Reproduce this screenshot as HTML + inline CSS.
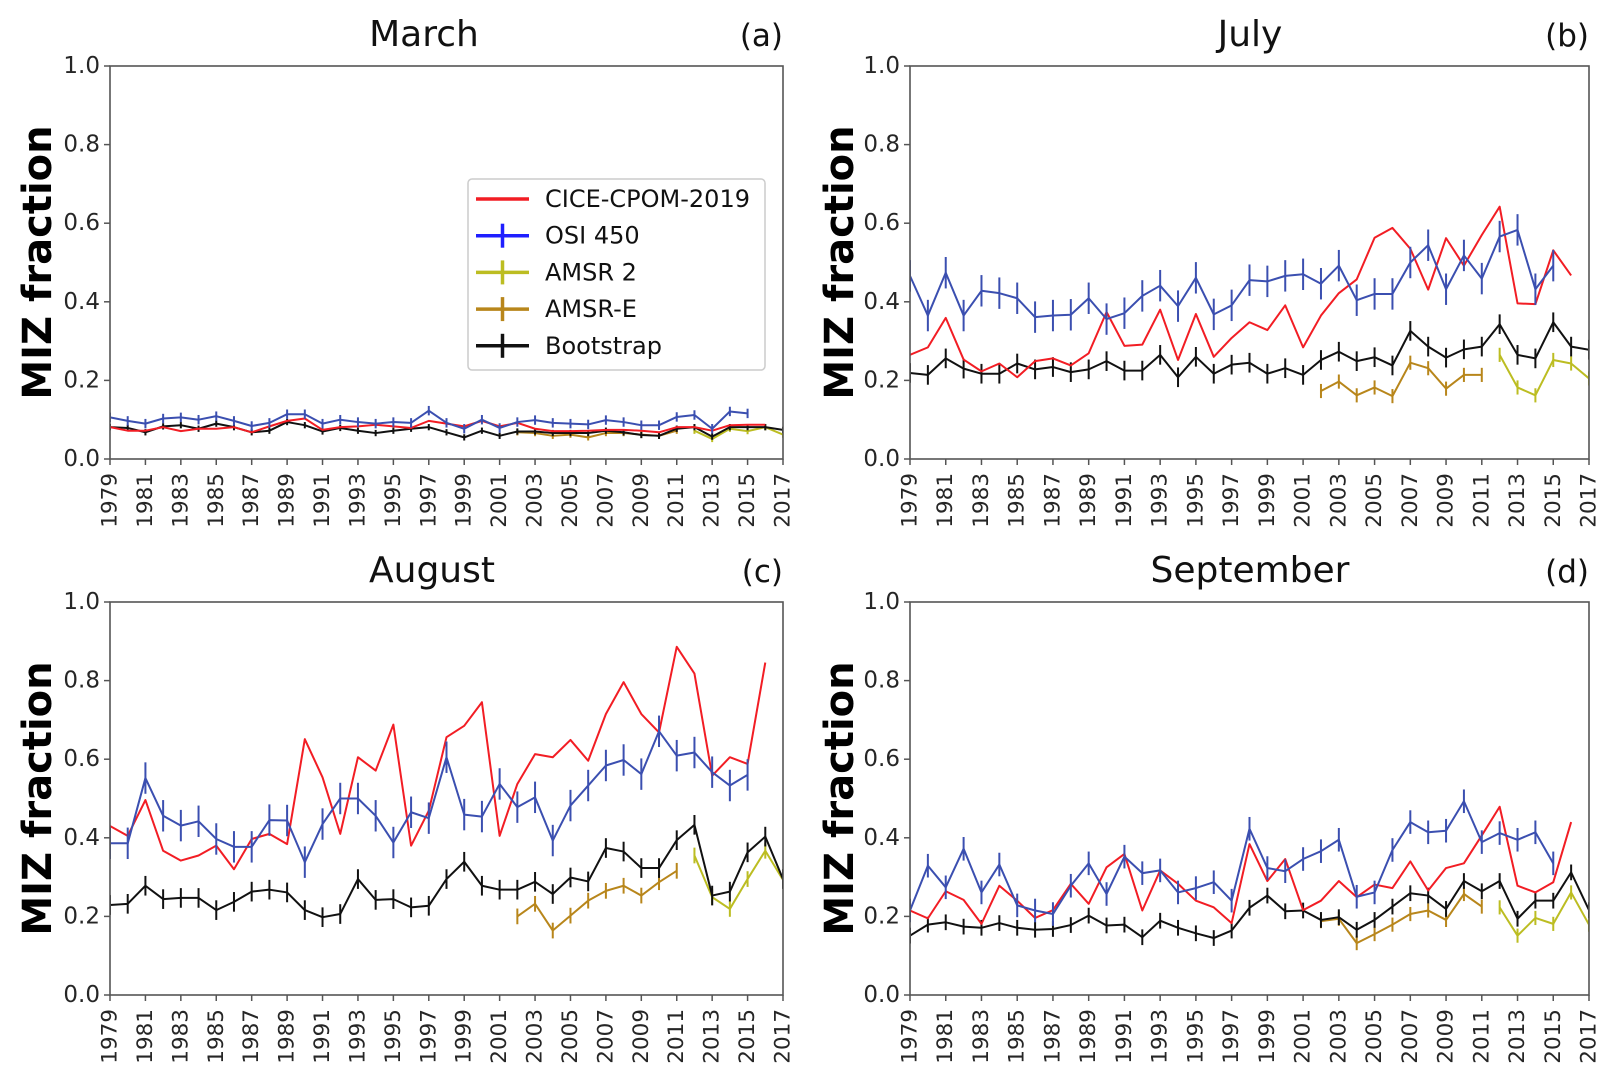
<!DOCTYPE html>
<html><head><meta charset="utf-8"><style>
html,body{margin:0;padding:0;background:#fff;}
svg{display:block;font-family:"DejaVu Sans","Liberation Sans",sans-serif;}
</style></head><body>
<svg id="fig" width="1612" height="1083" viewBox="0 0 1612 1083"></svg>
<script>
// ---------- data ----------
const years = [];
for (let y = 1979; y <= 2017; y++) years.push(y);
const yTicks = [0.0, 0.2, 0.4, 0.6, 0.8, 1.0];
const xTickYears = years.filter((y, i) => i % 2 === 0);

const marchCice = [0.081,0.072,0.072,0.081,0.071,0.077,0.077,0.081,0.068,0.083,0.097,0.103,0.074,0.081,0.083,0.087,0.083,0.079,0.097,0.09,0.083,0.097,0.083,0.092,0.077,0.071,0.071,0.072,0.074,0.074,0.072,0.068,0.081,0.081,0.072,0.086,0.087,0.087];
const marchOsi = [0.106,0.097,0.09,0.103,0.106,0.1,0.109,0.097,0.084,0.092,0.114,0.114,0.09,0.1,0.094,0.09,0.094,0.092,0.123,0.092,0.077,0.1,0.079,0.094,0.099,0.092,0.09,0.088,0.099,0.094,0.086,0.086,0.107,0.112,0.077,0.121,0.116];
const marchBoot = [0.081,0.079,0.068,0.083,0.086,0.077,0.09,0.081,0.068,0.072,0.094,0.086,0.07,0.079,0.072,0.066,0.072,0.077,0.081,0.068,0.055,0.072,0.059,0.07,0.07,0.066,0.066,0.066,0.072,0.068,0.061,0.059,0.077,0.081,0.057,0.081,0.081,0.081,0.074];
const marchAmsre = [0.068,0.066,0.059,0.062,0.055,0.066,0.066,0.062,0.059,0.072];
const marchAmsr2 = [0.072,0.051,0.077,0.071,0.081,0.062];

const julyCice = [0.265,0.284,0.359,0.253,0.223,0.243,0.208,0.249,0.256,0.238,0.269,0.374,0.288,0.291,0.38,0.252,0.369,0.26,0.308,0.348,0.328,0.391,0.284,0.365,0.422,0.457,0.563,0.588,0.535,0.431,0.562,0.492,0.57,0.642,0.396,0.394,0.531,0.467];
const julyOsi = [0.466,0.365,0.474,0.365,0.428,0.422,0.409,0.361,0.365,0.367,0.409,0.356,0.371,0.415,0.441,0.389,0.461,0.368,0.391,0.455,0.452,0.466,0.47,0.446,0.492,0.404,0.42,0.42,0.5,0.544,0.432,0.518,0.459,0.566,0.583,0.432,0.492];
const julyBoot = [0.219,0.214,0.256,0.23,0.217,0.217,0.243,0.228,0.234,0.221,0.228,0.249,0.225,0.225,0.265,0.208,0.26,0.217,0.24,0.245,0.217,0.231,0.214,0.252,0.273,0.249,0.259,0.238,0.326,0.286,0.258,0.279,0.286,0.343,0.265,0.256,0.348,0.286,0.278];
const julyAmsre = [0.173,0.197,0.162,0.182,0.16,0.245,0.231,0.179,0.214,0.214];
const julyAmsr2 = [0.265,0.182,0.162,0.252,0.243,0.205];

const augCice = [0.43,0.405,0.496,0.367,0.342,0.355,0.38,0.32,0.397,0.41,0.384,0.651,0.554,0.41,0.605,0.571,0.688,0.38,0.469,0.656,0.685,0.745,0.405,0.537,0.613,0.605,0.649,0.596,0.715,0.796,0.715,0.668,0.886,0.818,0.558,0.605,0.588,0.846];
const augOsi = [0.386,0.386,0.552,0.456,0.431,0.442,0.397,0.377,0.377,0.445,0.444,0.338,0.435,0.5,0.5,0.456,0.388,0.465,0.45,0.605,0.459,0.454,0.537,0.478,0.503,0.393,0.482,0.533,0.584,0.598,0.562,0.671,0.609,0.617,0.567,0.533,0.56];
const augBoot = [0.229,0.232,0.278,0.244,0.247,0.247,0.216,0.237,0.263,0.268,0.261,0.216,0.198,0.206,0.295,0.242,0.244,0.223,0.227,0.295,0.339,0.278,0.268,0.268,0.288,0.257,0.299,0.289,0.374,0.365,0.323,0.323,0.394,0.433,0.253,0.263,0.363,0.403,0.295];
const augAmsre = [0.2,0.232,0.164,0.202,0.24,0.265,0.278,0.253,0.287,0.316];
const augAmsr2 = [0.355,0.249,0.219,0.295,0.367,0.293];

const sepCice = [0.215,0.195,0.264,0.242,0.181,0.278,0.24,0.196,0.216,0.283,0.232,0.325,0.359,0.215,0.317,0.283,0.24,0.223,0.183,0.384,0.29,0.346,0.216,0.24,0.29,0.249,0.281,0.272,0.34,0.266,0.323,0.335,0.406,0.479,0.278,0.261,0.287,0.44];
const sepOsi = [0.215,0.329,0.274,0.372,0.261,0.332,0.228,0.215,0.206,0.278,0.335,0.257,0.352,0.31,0.317,0.261,0.272,0.287,0.24,0.423,0.323,0.315,0.346,0.366,0.395,0.25,0.261,0.369,0.44,0.414,0.418,0.493,0.389,0.412,0.395,0.414,0.335];
const sepBoot = [0.151,0.179,0.185,0.174,0.171,0.183,0.171,0.166,0.168,0.178,0.202,0.177,0.179,0.147,0.189,0.171,0.157,0.145,0.164,0.222,0.253,0.213,0.215,0.191,0.198,0.166,0.191,0.225,0.259,0.253,0.219,0.29,0.264,0.29,0.194,0.24,0.24,0.312,0.216];
const sepAmsre = [0.188,0.194,0.132,0.155,0.179,0.206,0.215,0.191,0.257,0.225];
const sepAmsr2 = [0.223,0.151,0.196,0.181,0.261,0.179];

const errOsi = [0.012, 0.04, 0.04, 0.03];
const errBoot = [0.008, 0.025, 0.025, 0.02];
const errAmsr = [0.008, 0.018, 0.02, 0.018];

// ---------- drawing ----------
const NS = "http://www.w3.org/2000/svg";
const svg = document.getElementById('fig');
function mk(tag, attrs, parent) {
  const e = document.createElementNS(NS, tag);
  for (const k in attrs) e.setAttribute(k, attrs[k]);
  (parent || svg).appendChild(e);
  return e;
}
const COL = {cice:'#f21d24', osi:'#3b4fb0', amsr2:'#bcbd22', amsre:'#b8861b', boot:'#111111'};

const panels = [
  {title:'March', tag:'(a)', L:110, R:783, T:66, B:459, ylx:38, tcx:424, cice:marchCice, osi:marchOsi, boot:marchBoot, amsre:marchAmsre, amsr2:marchAmsr2, legend:true},
  {title:'July', tag:'(b)', L:910, R:1589, T:66, B:459, ylx:840, tcx:1250, cice:julyCice, osi:julyOsi, boot:julyBoot, amsre:julyAmsre, amsr2:julyAmsr2},
  {title:'August', tag:'(c)', L:110, R:783, T:602, B:995, ylx:38, tcx:432, cice:augCice, osi:augOsi, boot:augBoot, amsre:augAmsre, amsr2:augAmsr2},
  {title:'September', tag:'(d)', L:910, R:1589, T:602, B:995, ylx:840, tcx:1250, cice:sepCice, osi:sepOsi, boot:sepBoot, amsre:sepAmsre, amsr2:sepAmsr2}
];

panels.forEach((p, pi) => {
  const g = mk('g', {});
  
  
  const xs = y => p.L + (y - 1979) / (2017 - 1979) * (p.R - p.L);
  const ys = v => p.B - v * (p.B - p.T);

  const t = mk('text', {x:p.tcx, y:p.T - 20, 'font-size':36, 'text-anchor':'middle', fill:'#111'}, g);
  t.textContent = p.title;
  
  
  const tg = mk('text', {x:p.R, y:p.T - 20, 'font-size':31, 'text-anchor':'end', fill:'#111'}, g);
  tg.textContent = p.tag;
  
  

  const yl = mk('text', {x:p.ylx, y:(p.T + p.B) / 2, 'font-size':40, 'font-weight':'bold', 'text-anchor':'middle', 'dominant-baseline':'central', fill:'#000', transform:`rotate(-90 ${p.ylx} ${(p.T + p.B) / 2})`}, g);
  yl.textContent = 'MIZ fraction';
  
  

  yTicks.forEach(v => {
    mk('line', {x1:p.L - 6, x2:p.L, y1:ys(v), y2:ys(v), stroke:'#555', 'stroke-width':1.5}, g);
    const lb = mk('text', {x:p.L - 10, y:ys(v), 'font-size':23, 'text-anchor':'end', 'dominant-baseline':'central', fill:'#262626'}, g);
    lb.textContent = v.toFixed(1);
    
    
  });
  xTickYears.forEach(yr => {
    const x = xs(yr);
    mk('line', {x1:x, x2:x, y1:p.B, y2:p.B + 6, stroke:'#555', 'stroke-width':1.5}, g);
    const lb = mk('text', {x:x, y:p.B + 14, 'font-size':21.5, 'text-anchor':'end', 'dominant-baseline':'central', fill:'#262626', transform:`rotate(-90 ${x} ${p.B + 14})`}, g);
    lb.textContent = String(yr);
    
    
  });

  const cid = 'clip' + pi;
  const cp = mk('clipPath', {id:cid}, g);
  mk('rect', {x:p.L, y:p.T, width:p.R - p.L, height:p.B - p.T}, cp);
  const plot = mk('g', {'clip-path':`url(#${cid})`}, g);

  function series(vals, y0, color, err, name) {
    const pts = vals.map((v, i) => [xs(y0 + i), ys(v)]);
    const sg = mk('g', {}, plot);
    
    
    const ln = mk('polyline', {points:pts.map(q => q.join(',')).join(' '), fill:'none', stroke:color, 'stroke-width':2, 'stroke-linejoin':'round'}, sg);
    
    
    if (err) {
      vals.forEach((v, i) => {
        const eb = mk('line', {x1:xs(y0 + i), x2:xs(y0 + i), y1:ys(v - err), y2:ys(v + err), stroke:color, 'stroke-width':2}, sg);
        
        
      });
    }
  }
  series(p.amsre, 2002, COL.amsre, errAmsr[pi], 'amsr-e-series');
  series(p.amsr2, 2012, COL.amsr2, errAmsr[pi], 'amsr2-series');
  series(p.boot, 1979, COL.boot, errBoot[pi], 'bootstrap-series');
  series(p.cice, 1979, COL.cice, 0, 'cice-cpom-2019-series');
  series(p.osi, 1979, COL.osi, errOsi[pi], 'osi-450-series');

  const fr = mk('rect', {x:p.L, y:p.T, width:p.R - p.L, height:p.B - p.T, fill:'none', stroke:'#555', 'stroke-width':1.6}, g);
  
  

  if (p.legend) {
    const lg = mk('g', {}, g);
    
    
    mk('rect', {x:468, y:179, width:297, height:191, rx:4, fill:'#fff', 'fill-opacity':0.85, stroke:'#cccccc', 'stroke-width':1.5}, lg);
    const entries = [['CICE-CPOM-2019', COL.cice, false], ['OSI 450', '#1f1fff', true], ['AMSR 2', COL.amsr2, true], ['AMSR-E', COL.amsre, true], ['Bootstrap', COL.boot, true]];
    entries.forEach((e, i) => {
      const y = 199 + i * 36.7;
      const eg = mk('g', {}, lg);
      
      
      mk('line', {x1:476, x2:529, y1:y, y2:y, stroke:e[1], 'stroke-width':3.5}, eg);
      if (e[2]) mk('line', {x1:502.5, x2:502.5, y1:y - 12, y2:y + 12, stroke:e[1], 'stroke-width':3.5}, eg);
      const tx = mk('text', {x:545, y:y, 'font-size':24, 'dominant-baseline':'central', fill:'#111'}, eg);
      tx.textContent = e[0];
    });
  }
});
</script>
</body></html>
